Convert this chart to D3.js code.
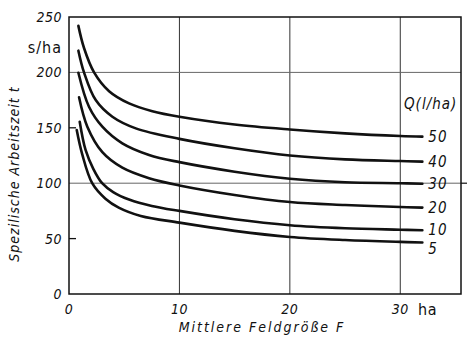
<!DOCTYPE html>
<html>
<head>
<meta charset="utf-8">
<script src="https://cdn.jsdelivr.net/npm/d3@7"></script>
<style>
  body { margin: 0; background: #fff; }
  text { font-family: "DejaVu Sans Condensed", "DejaVu Sans", sans-serif; fill: #111; }
</style>
</head>
<body>
<svg width="471" height="338"></svg>
<script>
// readings: [F (ha), t (s/ha)]
const q50 = [[0.85,242],[1.36,222],[2.27,200],[3.63,183],[5.44,172],[7.55,165],[10,160],[15,153],[20,148.5],[25,145],[30,142.6],[32,142]];
const q40 = [[0.85,219.6],[1.36,200],[2.42,175],[3.93,160],[6.05,149.5],[10,140],[15,131.5],[20,125],[25,121.5],[30,120],[32,119.5]];
const q30 = [[0.85,199.7],[1.81,169],[3.02,151],[4.83,136],[7.25,125.5],[10,119],[15,110.4],[20,104],[25,100.8],[30,100],[32,99.5]];
const q20 = [[0.91,177.5],[1.66,151],[3.02,128],[4.83,114],[7.25,104.5],[10,98],[15,89.4],[20,83],[25,80.3],[30,78.5],[32,78]];
const q10 = [[0.97,155.5],[1.5,130],[2.2,113],[3.0,100],[4.0,92],[5.5,85],[7.5,79.5],[10,75],[15,67.4],[20,62],[25,59.3],[30,58],[32,57.5]];
const q5  = [[0.7,148],[1.2,126],[2.1,100],[3.3,86],[4.5,78],[6.5,70.5],[10,64.4],[15,57],[20,51.5],[25,48.7],[30,47],[32,46.5]];

const seriesNames = ['50','40','30','20','10','5'];
const seriesData = [q50, q40, q30, q20, q10, q5];

const xTicks = [0, 10, 20, 30];
const yTicks = [0, 50, 100, 150, 200, 250];
const xGrid = [10, 20, 30];
const yGrid = [100, 200];

const svg = d3.select('svg');

const x = d3.scaleLinear().domain([0, 35.5]).range([69, 461]);
const y = d3.scaleLinear().domain([0, 250]).range([294, 17]);

// grid
svg.selectAll('.vgrid').data(xGrid)
  .enter().append('line')
    .attr('x1', d => x(d)).attr('x2', d => x(d))
    .attr('y1', y(250)).attr('y2', y(0))
    .attr('stroke', '#333').attr('stroke-width', 1);

svg.selectAll('.hgrid').data(yGrid)
  .enter().append('line')
    .attr('x1', x(0)).attr('x2', x(35.5))
    .attr('y1', d => y(d)).attr('y2', d => y(d))
    .attr('stroke', '#666').attr('stroke-width', 1);

// frame
svg.append('rect')
  .attr('x', x(0)).attr('y', y(250))
  .attr('width', x(35.5) - x(0)).attr('height', y(0) - y(250))
  .attr('fill', 'none').attr('stroke', '#111').attr('stroke-width', 1.5);

// small ticks on left
svg.selectAll('.ytick').data([50, 150])
  .enter().append('line')
    .attr('x1', x(0)).attr('x2', x(0) + 7)
    .attr('y1', d => y(d)).attr('y2', d => y(d))
    .attr('stroke', '#111').attr('stroke-width', 1.3);

svg.append('line')
  .attr('x1', x(35.5)).attr('x2', x(35.5) + 6)
  .attr('y1', y(100)).attr('y2', y(100))
  .attr('stroke', '#111').attr('stroke-width', 1.2);

// tick labels
svg.selectAll('.ylab').data(yTicks)
  .enter().append('text')
    .attr('x', 62).attr('y', d => y(d))
    .attr('dy', '0.35em')
    .attr('text-anchor', 'end')
    .style('font-style', 'italic')
    .style('font-size', '14px')
    .style('letter-spacing', '0.5px')
    .text(d => d);

svg.append('text')
  .attr('x', 62).attr('y', 47).attr('dy', '0.35em')
  .attr('text-anchor', 'end')
  .style('font-size', '16px')
  .style('letter-spacing', '1px')
  .text('s/ha');

svg.selectAll('.xlab').data(xTicks)
  .enter().append('text')
    .attr('x', d => x(d)).attr('y', 309)
    .attr('dy', '0.35em')
    .attr('text-anchor', 'middle')
    .style('font-style', 'italic')
    .style('font-size', '14px')
    .style('letter-spacing', '0.5px')
    .text(d => d);

svg.append('text')
  .attr('x', 418).attr('y', 309).attr('dy', '0.35em')
  .style('font-size', '16px')
  .style('letter-spacing', '0.5px')
  .text('ha');

// axis titles
svg.append('text')
  .attr('x', 262).attr('y', 327).attr('dy', '0.35em')
  .attr('text-anchor', 'middle')
  .style('font-style', 'italic')
  .style('font-size', '14px')
  .style('letter-spacing', '2px')
  .text('Mittlere Feldgröße F');

svg.append('text')
  .attr('transform', 'translate(14,174) rotate(-90)')
  .attr('dy', '0.35em')
  .attr('text-anchor', 'middle')
  .style('font-style', 'italic')
  .style('font-size', '14px')
  .style('letter-spacing', '1px')
  .text('Spezilische Arbeitszeit t');

// curves
const line = d3.line()
  .x(d => x(d[0]))
  .y(d => y(d[1]))
  .curve(d3.curveCatmullRom.alpha(0.5));

svg.selectAll('.curve').data(seriesData)
  .enter().append('path')
    .attr('d', line)
    .attr('fill', 'none')
    .attr('stroke', '#111')
    .attr('stroke-width', 2.6)
    .attr('stroke-linecap', 'round');

const labelShift = [0, 0, 0, 0, -1, 6];
svg.selectAll('.qlab').data(seriesData)
  .enter().append('text')
    .attr('x', d => x(d[d.length - 1][0]) + 6)
    .attr('y', (d, i) => y(d[d.length - 1][1]) + labelShift[i])
    .attr('dy', '0.35em')
    .style('font-style', 'italic')
    .style('font-size', '15px')
    .style('letter-spacing', '1px')
    .text((d, i) => seriesNames[i]);

svg.append('text')
  .attr('x', 404).attr('y', 104).attr('dy', '0.35em')
  .style('font-style', 'italic')
  .style('font-size', '15px')
  .style('letter-spacing', '1px')
  .text('Q(l/ha)');
</script>
</body>
</html>
